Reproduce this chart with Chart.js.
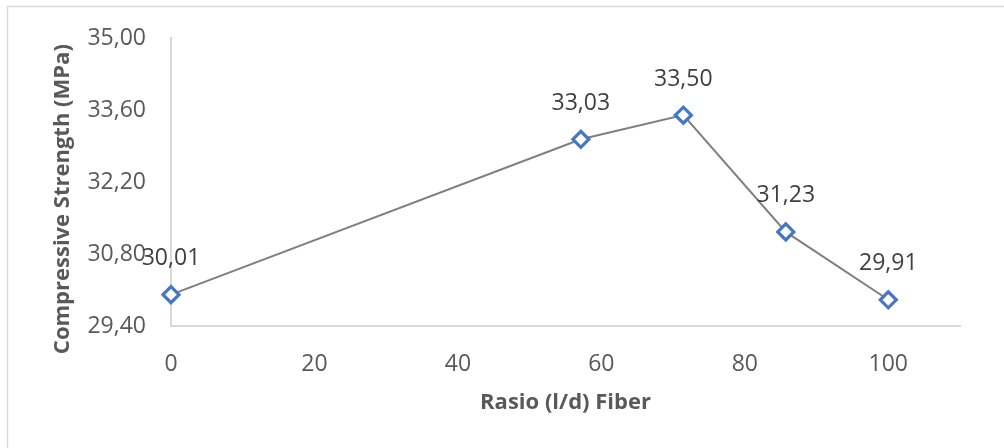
<!DOCTYPE html>
<html>
<head>
<meta charset="utf-8">
<script src="https://cdn.jsdelivr.net/npm/chart.js@4/dist/chart.umd.min.js"></script>
<style>
  body { margin: 0; background: #fff; }
  canvas { display: block; }
</style>
</head>
<body>
<canvas id="myChart" width="1004" height="448"></canvas>
<script>
// data
var ratios = [0, 57.14, 71.43, 85.71, 100];
var strength = [30.01, 33.03, 33.50, 31.23, 29.91];
var yTicks = [29.40, 30.80, 32.20, 33.60, 35.00];
var xTicks = [0, 20, 40, 60, 80, 100];

function comma(v) {
  return v.toFixed(2).replace('.', ',');
}

// little frame round the chart, like the excel export
var frame = {
  id: 'frame',
  beforeDraw: function(chart) {
    var c = chart.ctx;
    c.save();
    c.strokeStyle = '#d9d9d9';
    c.lineWidth = 1.5;
    c.beginPath();
    c.moveTo(7.5, 448);
    c.lineTo(7.5, 6.5);
    c.lineTo(1004, 6.5);
    c.stroke();
    c.restore();
  }
};

// value labels above each point
var valueLabels = {
  id: 'valueLabels',
  afterDatasetsDraw: function(chart) {
    var c = chart.ctx;
    var meta = chart.getDatasetMeta(0);
    c.save();
    c.font = '23px "Open Sans"';
    c.fillStyle = '#404040';
    c.textAlign = 'center';
    c.textBaseline = 'middle';
    meta.data.forEach(function(pt, i) {
      c.fillText(comma(strength[i]), pt.x, pt.y - 36);
    });
    c.restore();
  }
};

var ctx = document.getElementById("myChart").getContext('2d');
var myChart = new Chart(ctx, {
  type: 'line',
  data: {
    datasets: [{
      data: ratios.map(function(x, i) { return {x: x, y: strength[i]}; }),
      borderColor: '#7f7f7f',
      borderWidth: 2,
      clip: false,
      pointStyle: 'rectRot',
      pointRadius: 8,
      pointBorderWidth: 3.2,
      pointBorderColor: '#4677c1',
      pointBackgroundColor: '#fff',
      tension: 0
    }]
  },
  options: {
    responsive: false,
    animation: false,
    layout: { padding: { left: 0, top: 38, right: 44, bottom: 0 } },
    plugins: { legend: { display: false }, tooltip: { enabled: false } },
    scales: {
      x: {
        type: 'linear',
        min: 0,
        max: 110,
        grid: { display: false },
        border: { color: '#d9d9d9', width: 2 },
        ticks: {
          padding: 17,
          color: '#595959',
          font: { family: 'Open Sans', size: 23 },
          maxRotation: 0
        },
        afterBuildTicks: function(scale) {
          scale.ticks = xTicks.map(function(v) { return {value: v}; });
        },
        afterFit: function(scale) { scale.height = 122; },
        title: {
          display: true,
          text: 'Rasio (l/d) Fiber',
          color: '#595959',
          font: { family: 'Open Sans', size: 22, weight: 'bold' },
          padding: { top: 0, bottom: 32 }
        }
      },
      y: {
        min: 29.4,
        max: 35,
        grid: { display: false },
        border: { color: '#d9d9d9', width: 2 },
        ticks: {
          padding: 17,
          color: '#595959',
          font: { family: 'Open Sans', size: 23 },
          callback: function(v) { return comma(v); }
        },
        afterBuildTicks: function(scale) {
          scale.ticks = yTicks.map(function(v) { return {value: v}; });
        },
        afterFit: function(scale) { scale.width = 171; },
        title: {
          display: true,
          // trailing spaces push the title a bit lower, as in the original
          text: 'Compressive Strength (MPa)      ',
          color: '#595959',
          font: { family: 'Open Sans', size: 22, weight: 'bold' },
          padding: { top: 50, bottom: 0 }
        }
      }
    }
  },
  plugins: [frame, valueLabels]
});
</script>
</body>
</html>
